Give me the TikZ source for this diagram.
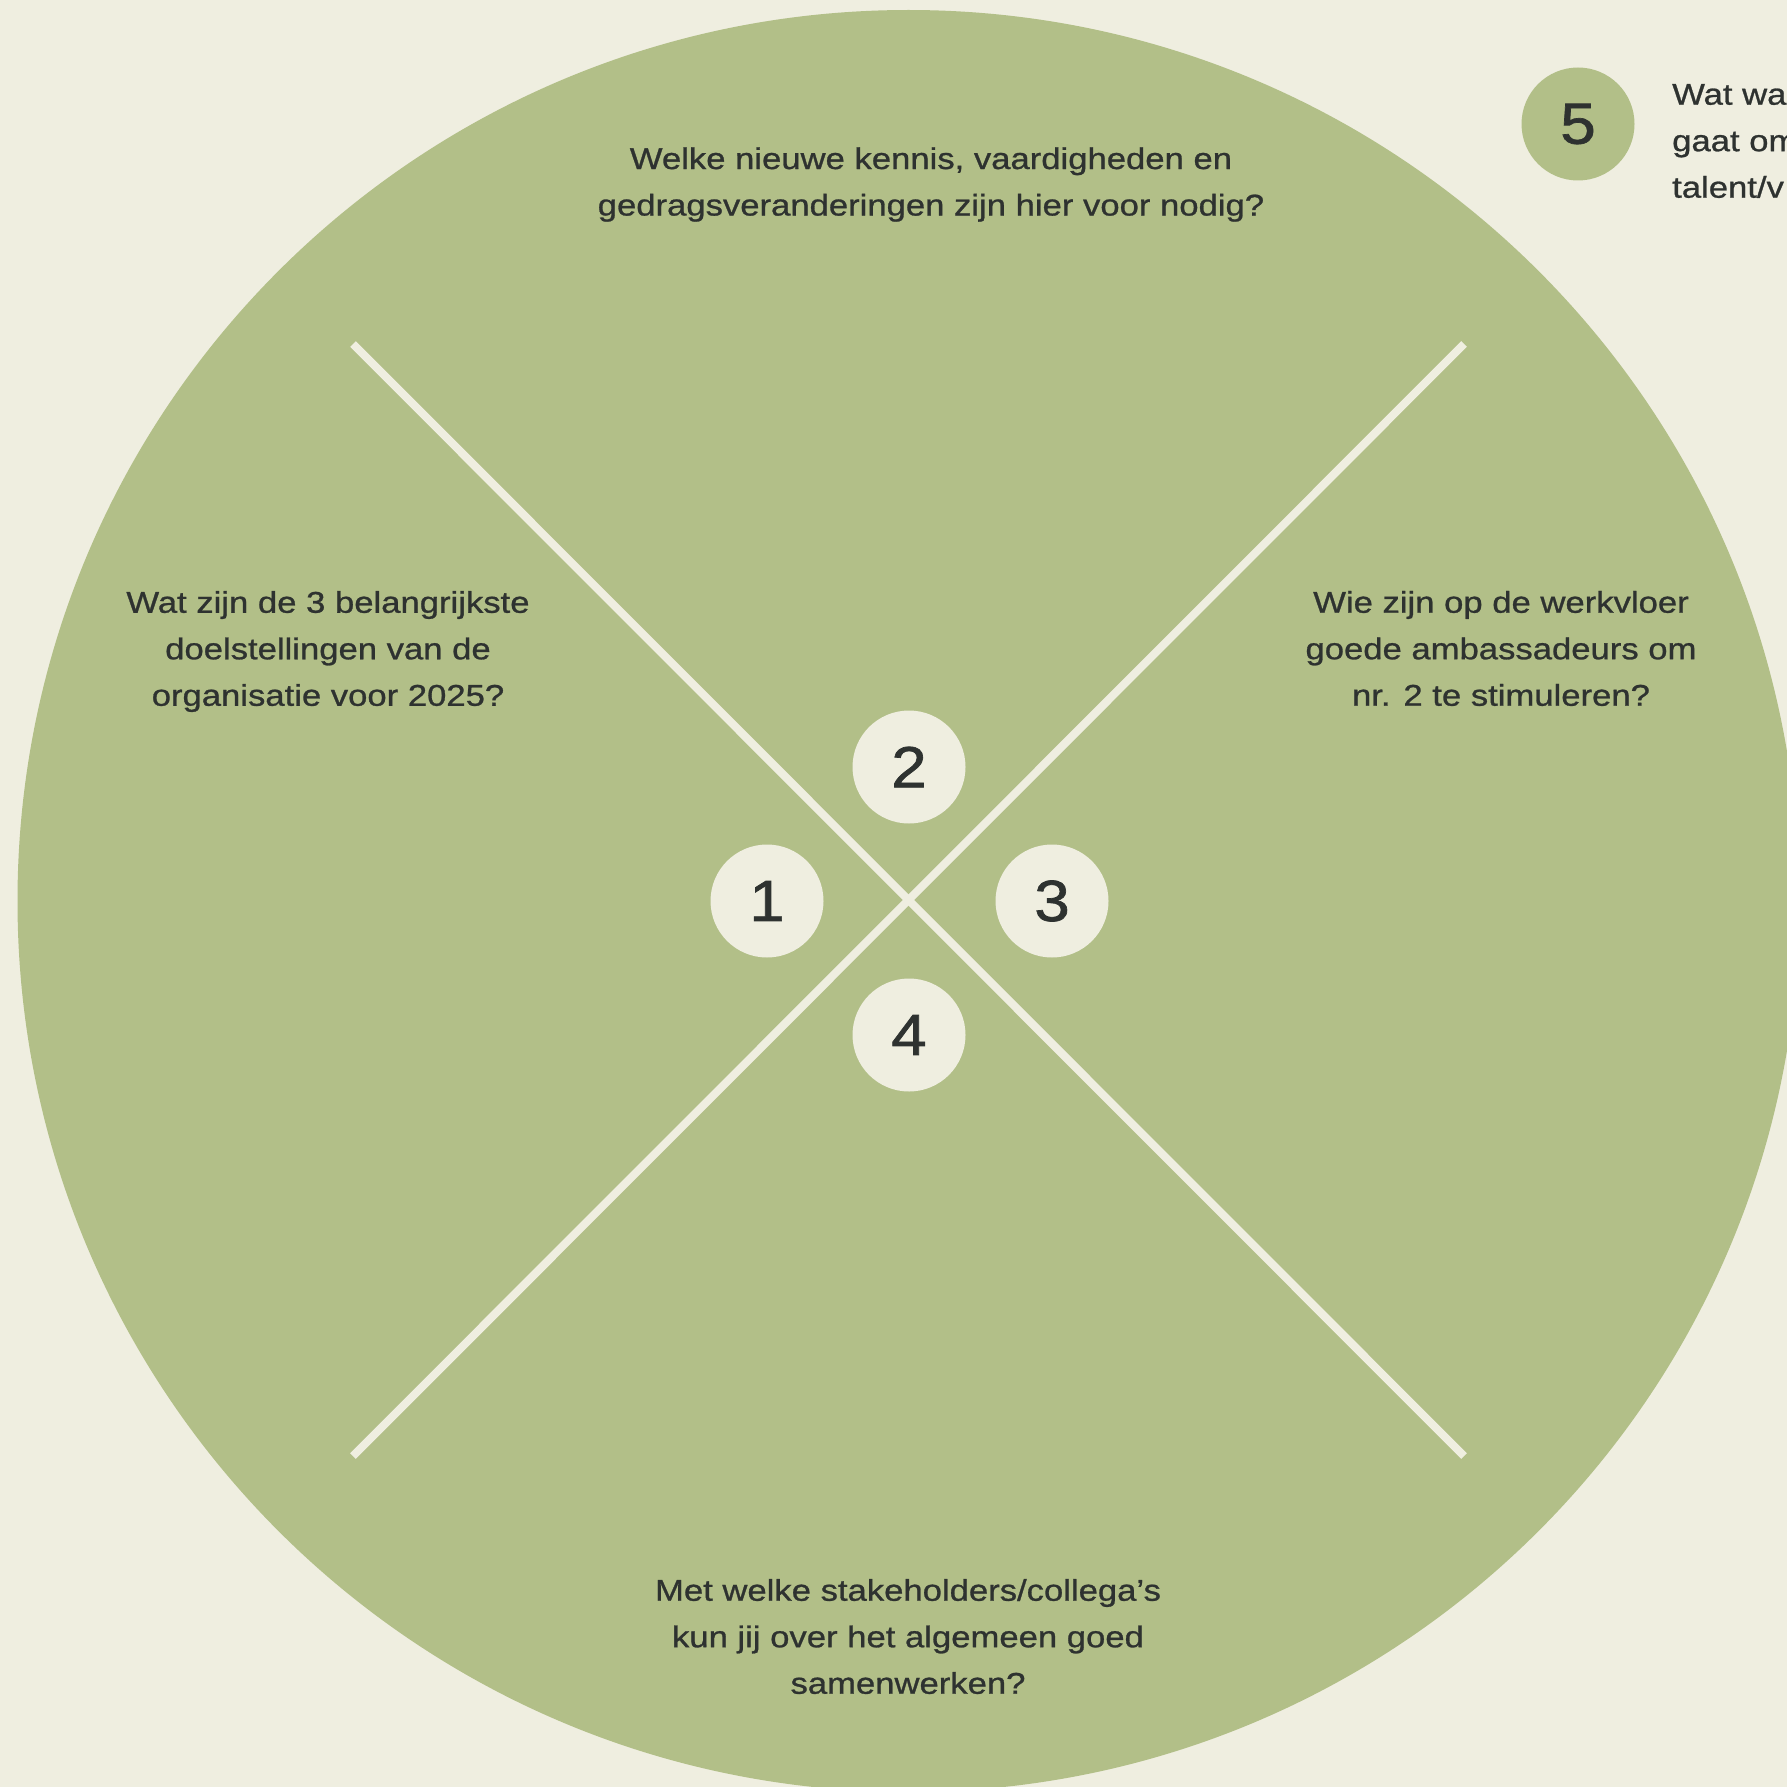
\documentclass[tikz,border=0pt]{standalone}
\usepackage{fontspec}
\setmainfont{Liberation Sans}
\newfontfamily\widefont[FakeStretch=1.155,FakeBold=0.9]{Liberation Sans}
\newfontfamily\digitfont[FakeStretch=1.1,FakeBold=1.2]{Liberation Sans}
\definecolor{bgcream}{HTML}{EFEEE0}
\definecolor{sage}{HTML}{B2BF88}
\definecolor{inkdark}{HTML}{2E3230}
\tikzset{
  question/.style={text=inkdark, align=center, inner sep=0pt,
    font=\widefont\fontsize{30}{46.5}\selectfont},
  numdot/.style={circle, fill=bgcream, minimum size=113pt, inner sep=0pt,
    text=inkdark, font=\digitfont\fontsize{58}{58}\selectfont},
  divider/.style={draw=bgcream, line width=8pt}
}
\begin{document}
\begin{tikzpicture}[x=1pt,y=-1pt]
\useasboundingbox (0,0) rectangle (1787,1787);
\clip (0,0) rectangle (1787,1787);
\fill[bgcream] (0,0) rectangle (1787,1787);
% big circle
\fill[sage] (908.5,901) circle[radius=891];
% dividers
\coordinate (tl) at (353,344);
\coordinate (br) at (1464,1456);
\coordinate (tr) at (1464,344);
\coordinate (bl) at (353,1456);
\draw[divider] (tl) -- (br);
\draw[divider] (tr) -- (bl);
% numbered dots
\node[numdot] (n1) at (767,901) {1};
\node[numdot] (n2) at (909,767) {2};
\node[numdot] (n3) at (1052,901) {3};
\node[numdot] (n4) at (909,1035) {4};
\node[numdot, fill=sage] (n5) at (1578,124) {5};
% questions
\node[question] (q2) at (931,184.5) {Welke nieuwe kennis, vaardigheden en\\gedragsveranderingen zijn hier voor nodig?};
\node[question] (q1) at (328,651.5) {Wat zijn de 3 belangrijkste\\doelstellingen van de\\organisatie voor 2025?};
\node[question] (q3) at (1501,648.5) {Wie zijn op de werkvloer\\goede ambassadeurs om\\nr. 2 te stimuleren?};
\node[question] (q4) at (908,1636.5) {Met welke stakeholders/collega’s\\kun jij over het algemeen goed\\samenwerken?};
\node[question, align=left, anchor=west] (q5) at (1672,141) {Wat wa\\gaat om\\talent/v};
\end{tikzpicture}
\end{document}
